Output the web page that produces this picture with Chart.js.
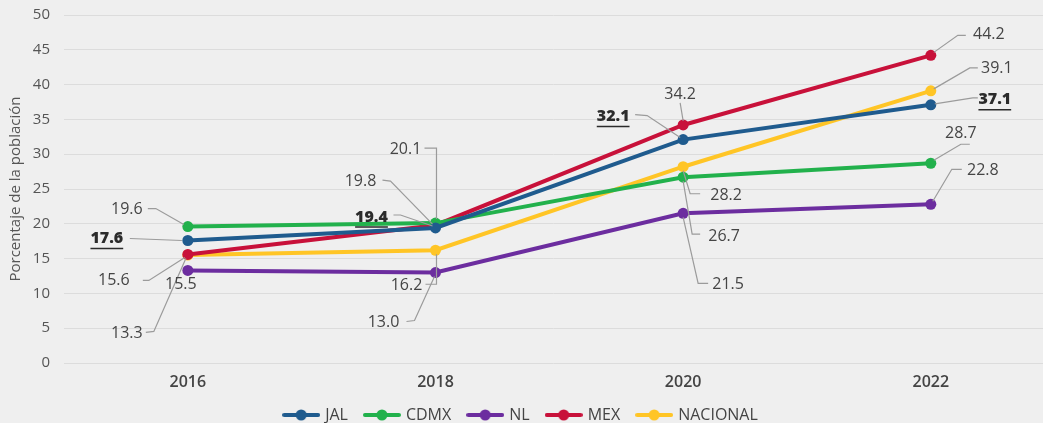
<!DOCTYPE html>
<html>
<head>
<meta charset="utf-8">
<script src="https://cdn.jsdelivr.net/npm/chart.js@4"></script>
<style>
  html, body { margin: 0; padding: 0; background: #efefef; }
  #wrap { width: 1043px; height: 423px; }
</style>
</head>
<body>
<div id="wrap"><canvas id="povChart" width="1043" height="423"></canvas></div>
<script>
// data
const years = [2016, 2018, 2020, 2022];
const jal = [17.6, 19.4, 32.1, 37.1];
const cdmx = [19.6, 20.1, 26.7, 28.7];
const nl = [13.3, 13.0, 21.5, 22.8];
const mex = [15.6, 19.8, 34.2, 44.2];
const nacional = [15.5, 16.2, 28.2, 39.1];
const seriesNames = ['JAL', 'CDMX', 'NL', 'MEX', 'NACIONAL'];
const yTickValues = [0, 5, 10, 15, 20, 25, 30, 35, 40, 45, 50];
const yTitle = 'Porcentaje de la población';
const highlight = 'JAL';

const colors = ['#1f5b8e', '#22b14c', '#6c2d9f', '#c8113a', '#ffc526'];
const FONT = "'Open Sans', sans-serif";

// where each value label sits, relative to its point (px): text offset + leader path
const labelLayout = {
  JAL: [
    { dx: -81, dy: -2, path: [[-58, -2], [-6, 0]] },
    { dx: -64, dy: -11, path: [[-42, -13], [-35, -13], [-3, -2]] },
    { dx: -70, dy: -23, path: [[-48, -25], [-36, -24], [-3, -2]] },
    { dx: 64, dy: -5, path: [[4, -1], [42, -7], [47, -7]] }
  ],
  CDMX: [
    { dx: -61, dy: -17, path: [[-40, -18], [-32, -18], [-4, -2]] },
    { dx: -30, dy: -74, path: [[-11, -75], [1, -75], [1, -4]] },
    { dx: 41, dy: 59, path: [[0, 4], [9, 57], [17, 57]] },
    { dx: 30, dy: -30, path: [[3, -3], [30, -19], [39, -19]] }
  ],
  NL: [
    { dx: -61, dy: 63, path: [[-42, 62], [-34, 61], [-2, -12]] },
    { dx: -52, dy: 50, path: [[-29, 49], [-21, 48], [-1, 4]] },
    { dx: 45, dy: 71, path: [[0, 4], [15, 70], [25, 70]] },
    { dx: 52, dy: -34, path: [[2, -3], [21, -35], [31, -35]] }
  ],
  MEX: [
    { dx: -74, dy: 26, path: [[-45, 26], [-39, 26], [-3, 3]] },
    { dx: -75, dy: -44, path: [[-53, -45], [-45, -44], [-3, -1]] },
    { dx: -3, dy: -31, path: [[-3, -22], [0, -4]] },
    { dx: 58, dy: -21, path: [[3, -3], [27, -20], [35, -20]] }
  ],
  NACIONAL: [
    { dx: -7, dy: 29, path: null },
    { dx: -29, dy: 35, path: [[-10, 34], [1, 34], [1, 4]] },
    { dx: 43, dy: 29, path: [[0, 4], [7, 27], [17, 27]] },
    { dx: 66, dy: -22, path: [[3, -2], [39, -23], [47, -23]] }
  ]
};

const allValues = [jal, cdmx, nl, mex, nacional];

function legendIcon(color) {
  const c = document.createElement('canvas');
  c.width = 38; c.height = 12;
  const g = c.getContext('2d');
  g.strokeStyle = color; g.lineWidth = 4; g.lineCap = 'round';
  g.beginPath(); g.moveTo(2, 6); g.lineTo(36, 6); g.stroke();
  g.fillStyle = color;
  g.beginPath(); g.arc(19, 6, 5.5, 0, Math.PI * 2); g.fill();
  return c;
}

const bgPlugin = {
  id: 'bg',
  beforeDraw(chart) {
    const ctx = chart.ctx;
    ctx.save();
    ctx.fillStyle = '#efefef';
    ctx.fillRect(0, 0, chart.width, chart.height);
    ctx.restore();
  }
};

const valueLabels = {
  id: 'valueLabels',
  afterDatasetsDraw(chart) {
    const ctx = chart.ctx;
    ctx.save();
    chart.data.datasets.forEach((ds, di) => {
      const meta = chart.getDatasetMeta(di);
      const lay = labelLayout[ds.label];
      meta.data.forEach((pt, i) => {
        const spec = lay[i];
        if (spec.path) {
          ctx.strokeStyle = '#9b9b9b';
          ctx.lineWidth = 1.2;
          ctx.beginPath();
          spec.path.forEach((p, k) => {
            if (k === 0) ctx.moveTo(pt.x + p[0], pt.y + p[1]);
            else ctx.lineTo(pt.x + p[0], pt.y + p[1]);
          });
          ctx.stroke();
        }
        const txt = ds.data[i].y.toFixed(1);
        const tx = pt.x + spec.dx, ty = pt.y + spec.dy;
        const bold = ds.label === highlight;
        ctx.font = (bold ? '800 ' : '400 ') + '16px ' + FONT;
        ctx.fillStyle = bold ? '#2b2b2b' : '#454545';
        ctx.textAlign = 'center';
        ctx.textBaseline = 'middle';
        ctx.fillText(txt, tx, ty);
        if (bold) {
          const w = ctx.measureText(txt).width;
          ctx.strokeStyle = '#2b2b2b';
          ctx.lineWidth = 1.5;
          ctx.beginPath();
          ctx.moveTo(tx - w / 2, ty + 10);
          ctx.lineTo(tx + w / 2, ty + 10);
          ctx.stroke();
        }
      });
    });
    ctx.restore();
  }
};

const povChart = new Chart(document.getElementById('povChart'), {
  type: 'line',
  data: {
    datasets: seriesNames.map((name, s) => ({
      label: name,
      data: years.map((yr, i) => ({ x: yr, y: allValues[s][i] })),
      borderColor: colors[s],
      backgroundColor: colors[s],
      borderWidth: 4,
      pointRadius: 5.5,
      pointBorderWidth: 0,
      tension: 0,
      fill: false
    }))
  },
  options: {
    responsive: false,
    animation: false,
    layout: { autoPadding: false, padding: { top: 15, right: 0, left: 0, bottom: -10 } },
    scales: {
      x: {
        type: 'linear',
        min: 2015,
        max: 2022.906,
        afterBuildTicks: (s) => { s.ticks = years.map(v => ({ value: v })); },
        afterFit: (s) => { s.height = 26; s.paddingLeft = 0; s.paddingRight = 0; },
        grid: { display: false, drawTicks: false },
        border: { display: false },
        ticks: {
          padding: 10,
          color: '#444',
          font: { family: FONT, size: 16, weight: '600' },
          callback: (v) => String(v)
        }
      },
      y: {
        min: 0,
        max: 50,
        afterBuildTicks: (s) => { s.ticks = yTickValues.map(v => ({ value: v })); },
        afterFit: (s) => { s.width = 64; s.paddingTop = 0; s.paddingBottom = 0; },
        grid: { color: '#dcdcdc', lineWidth: 1, drawTicks: false },
        border: { display: false },
        ticks: {
          padding: 14,
          color: '#555',
          font: { family: FONT, size: 15 }
        },
        title: {
          display: true,
          text: yTitle,
          color: '#555',
          font: { family: FONT, size: 15 },
          padding: { top: 7, bottom: 0 }
        }
      }
    },
    plugins: {
      tooltip: { enabled: false },
      legend: {
        position: 'bottom',
        labels: {
          usePointStyle: true,
          pointStyleWidth: 32,
          boxHeight: 12,
          padding: 18,
          color: '#444',
          font: { family: FONT, size: 16 },
          generateLabels: (chart) => {
            const items = Chart.defaults.plugins.legend.labels.generateLabels(chart);
            items.forEach((it, i) => { it.pointStyle = legendIcon(colors[i]); });
            return items;
          }
        }
      }
    }
  },
  plugins: [bgPlugin, valueLabels]
});
</script>
</body>
</html>
